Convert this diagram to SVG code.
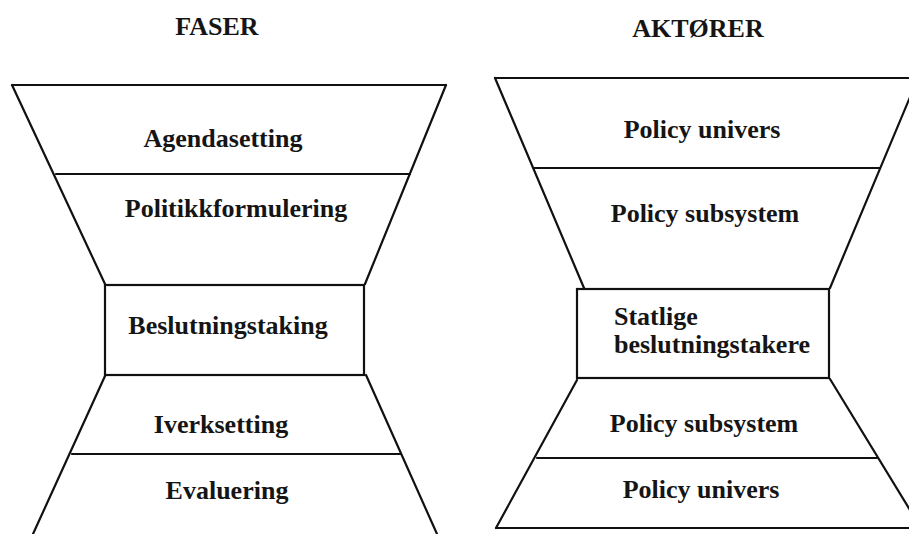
<svg xmlns="http://www.w3.org/2000/svg" width="909" height="534" viewBox="0 0 909 534">
  <style>
    .edge { stroke: #111; stroke-width: 2.2; fill: none; stroke-linecap: round; }
    .label { font-family: "Liberation Serif", "Times New Roman", serif; font-weight: bold; font-size: 26px; fill: #151515; }
    .mid { text-anchor: middle; }
  </style>
  <rect width="909" height="534" fill="#fff"/>

  <!-- column headings -->
  <text class="label mid" x="217" y="35">FASER</text>
  <text class="label mid" x="698" y="37">AKTØRER</text>

  <!-- funnel outlines: outer edges and layer dividers -->
  <g id="outlines">
    <!-- left hourglass -->
    <line class="edge" x1="12" y1="85" x2="446" y2="85"/>
    <line class="edge" x1="12" y1="85" x2="105" y2="284"/>
    <line class="edge" x1="446" y1="85" x2="365" y2="284"/>
    <line class="edge" x1="56" y1="174" x2="410" y2="174"/>
    <line class="edge" x1="105" y1="376" x2="33" y2="534"/>
    <line class="edge" x1="366" y1="375" x2="437" y2="534"/>
    <line class="edge" x1="72" y1="454" x2="401" y2="454"/>
    <!-- right hourglass -->
    <line class="edge" x1="495" y1="78" x2="912" y2="78"/>
    <line class="edge" x1="495" y1="78" x2="584" y2="288"/>
    <line class="edge" x1="918" y1="78" x2="830" y2="288"/>
    <line class="edge" x1="534" y1="168" x2="880" y2="168"/>
    <line class="edge" x1="577" y1="380" x2="496" y2="528"/>
    <line class="edge" x1="830" y1="379" x2="921" y2="528"/>
    <line class="edge" x1="537" y1="458" x2="878" y2="458"/>
    <line class="edge" x1="496" y1="528" x2="912" y2="528"/>
  </g>

  <!-- phases -->
  <g id="agendasetting">
    <text class="label mid" x="223" y="147">Agendasetting</text>
  </g>
  <g id="politikkformulering">
    <text class="label mid" x="236" y="217">Politikkformulering</text>
  </g>
  <g id="beslutningstaking">
    <rect class="edge" x="105" y="285" width="259" height="90"/>
    <text class="label mid" x="228" y="334">Beslutningstaking</text>
  </g>
  <g id="iverksetting">
    <text class="label mid" x="221" y="433">Iverksetting</text>
  </g>
  <g id="evaluering">
    <text class="label mid" x="227" y="499">Evaluering</text>
  </g>

  <!-- actors -->
  <g id="policy-univers-top">
    <text class="label mid" x="702" y="138">Policy univers</text>
  </g>
  <g id="policy-subsystem-top">
    <text class="label mid" x="705" y="222">Policy subsystem</text>
  </g>
  <g id="statlige-beslutningstakere">
    <rect class="edge" x="577" y="289" width="252" height="89"/>
    <text class="label" x="614" y="325">Statlige</text>
    <text class="label" x="614" y="353">beslutningstakere</text>
  </g>
  <g id="policy-subsystem-bottom">
    <text class="label mid" x="704" y="432">Policy subsystem</text>
  </g>
  <g id="policy-univers-bottom">
    <text class="label mid" x="701" y="498">Policy univers</text>
  </g>
</svg>
